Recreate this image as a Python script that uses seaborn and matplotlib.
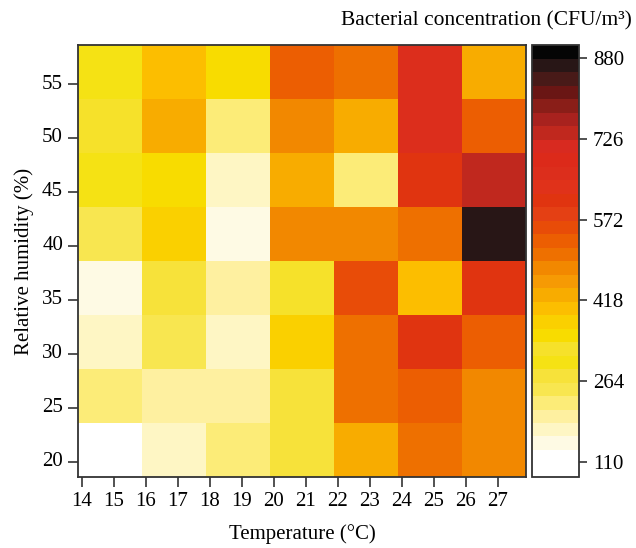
import numpy as np
import pandas as pd
import seaborn as sns
from matplotlib import pyplot as plt
from matplotlib.colors import ListedColormap

# data (rows: humidity top->bottom, cols: temperature bins)
humidity = [55, 50, 45, 40, 35, 30, 25, 20]
temp_bins = ["14-16", "16-18", "18-20", "20-22", "22-24", "24-26", "26-28"]
conc_55 = [300, 403, 351, 532, 506, 660, 429]
conc_50 = [326, 429, 223, 480, 429, 660, 532]
conc_45 = [300, 351, 171, 429, 223, 609, 738]
conc_40 = [248, 377, 145, 480, 480, 506, 866]
conc_35 = [145, 274, 197, 326, 557, 403, 609]
conc_30 = [171, 248, 171, 377, 506, 609, 532]
conc_25 = [223, 197, 197, 274, 506, 532, 480]
conc_20 = [94, 171, 223, 274, 429, 506, 480]

x_ticks = list(range(14, 28))
cbar_ticks = [110, 264, 418, 572, 726, 880]
cbar_lim = (81, 905)

# 32-step palette, white -> yellow -> orange -> red -> black
palette = ["#ffffff", "#ffffff", "#fefae4", "#fef6c4", "#fef0a0", "#fcec78",
           "#f8e650", "#f7e23a", "#f5e214", "#f6e12a", "#f8dc00", "#fad000",
           "#fcbe00", "#f8ac00", "#f69a04", "#f28800", "#ee7000", "#ec5e02",
           "#e84c08", "#e44014", "#e03410", "#e0321a", "#dc2e1c", "#dc2a1a",
           "#d82a20", "#c0281e", "#a8221e", "#8a1e18", "#6a1614", "#481a18",
           "#281616", "#050505"]


def main():
    df = pd.DataFrame([conc_55, conc_50, conc_45, conc_40,
                       conc_35, conc_30, conc_25, conc_20],
                      index=humidity, columns=temp_bins)

    plt.rcParams['font.family'] = ['Liberation Serif', 'DejaVu Serif']
    plt.rcParams['font.size'] = 15

    fig = plt.figure(figsize=(6.36, 5.48), dpi=100)
    ax = fig.add_axes([0.1231, 0.1296, 0.7047, 0.788])
    cax = fig.add_axes([0.8365, 0.1296, 0.0739, 0.788])

    sns.heatmap(df, ax=ax, cbar_ax=cax, cmap=ListedColormap(palette),
                vmin=cbar_lim[0], vmax=cbar_lim[1], linewidths=0)

    # continuous-looking axis ticks like the original
    ax.set_xticks([(t - 13.89) / 2 for t in x_ticks])
    ax.set_xticklabels([str(t) for t in x_ticks], rotation=0)
    ax.set_yticks([i + 0.72 for i in range(len(humidity))])
    ax.set_yticklabels([str(h) for h in humidity], rotation=0)
    ax.tick_params(direction='out', length=7, width=1.2, color='#333333',
                   labelsize=15, pad=4)
    for s in ax.spines.values():
        s.set_visible(True)
        s.set_color('#333333')
        s.set_linewidth(1.3)
    ax.set_xlabel("Temperature (°C)", fontsize=15, labelpad=9)
    ax.set_ylabel("Relative humidity (%)", fontsize=15, labelpad=6)

    cbar = ax.collections[0].colorbar
    cbar.set_ticks(cbar_ticks)
    cbar.set_ticklabels([str(t) for t in cbar_ticks])
    cbar.ax.tick_params(direction='out', length=6, width=1.2, color='#333333',
                        labelsize=15, pad=4)
    cbar.outline.set_edgecolor('#333333')
    cbar.outline.set_linewidth(1.3)

    fig.text(0.994, 0.962, "Bacterial concentration (CFU/m³)", ha='right',
             va='center', fontsize=15.5)

    fig.savefig("out.png", dpi=100)


if __name__ == "__main__":
    main()
